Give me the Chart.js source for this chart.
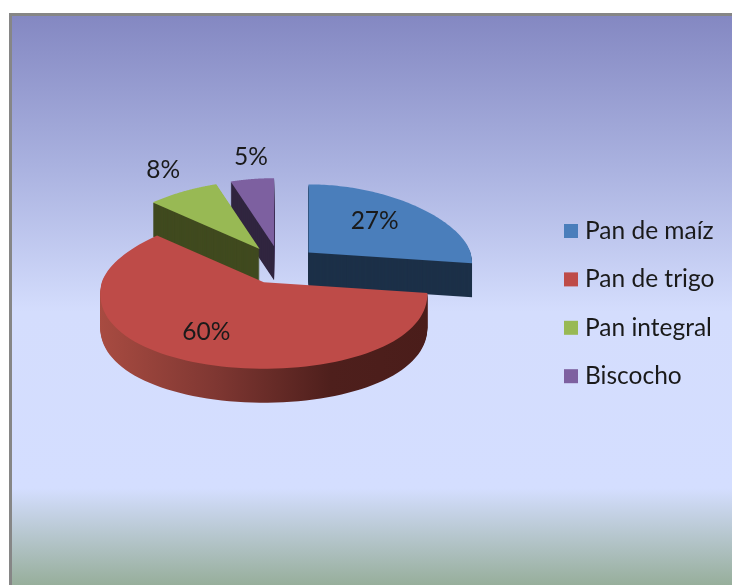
<!DOCTYPE html>
<html>
<head>
<meta charset="utf-8">
<script src="https://cdn.jsdelivr.net/npm/chart.js@4"></script>
<style>
html, body { margin: 0; padding: 0; background: #fff; overflow: hidden; }
#frame {
    position: absolute; left: 9px; top: 13px; width: 723px; height: 572px;
    box-sizing: border-box;
    border-left: 3px solid #868686; border-top: 3px solid #868686;
    background: linear-gradient(to bottom, #8488c2 0%, #a9b1df 26%, #d4ddfd 52%, #d4deff 83%, #97ae9b 100%);
}
#pie { position: absolute; left: 0; top: 0; }
</style>
</head>
<body>
<div id="frame"></div>
<canvas id="pie" width="732" height="585"></canvas>
<script>
const categories = ['Pan de maíz', 'Pan de trigo', 'Pan integral', 'Biscocho'];
const values = [27, 60, 8, 5];
const percentLabels = ['27%', '60%', '8%', '5%'];
const topColors = ['#4a7ebb', '#be4b48', '#98b954', '#7d60a0'];
const wallColors = ['#1c3048', '#4e1f1c', '#404a1f', '#30253f'];

const FONT = '24.5px Lato, "Open Sans", sans-serif';
const TEXT = '#1a1a1a';
const DEPTH = 34;
// how far out along the slice each percent label sits (1 = on the rim)
const labelDistX = [0.6, 0.74, 1.26, 1.06];
const labelDistY = [0.7, 0.64, 1.38, 1.33];

// fake 3D view: back half of the pie is flatter and narrower than the front
const project = (arc, apex, angle, distX, distY) => {
    const s = Math.cos(angle), c = -Math.sin(angle);
    const r = arc.outerRadius;
    return {
        x: apex.x + r * distX * s * (1 - 0.14 * c),
        y: apex.y - r * distY * c * (c > 0 ? 0.42 : 0.534)
    };
};

const apexOf = (arc) => {
    const mid = (arc.startAngle + arc.endAngle) / 2;
    const off = arc.options.offset;
    return { x: arc.x + off * Math.cos(mid), y: arc.y + off * Math.sin(mid) * 0.5 };
};

const slicePath = (ctx, arc, dy) => {
    const apex = apexOf(arc);
    ctx.beginPath();
    ctx.moveTo(apex.x, apex.y + dy);
    const steps = 90;
    for (let i = 0; i <= steps; i++) {
        const a = arc.startAngle + (arc.endAngle - arc.startAngle) * i / steps;
        const p = project(arc, apex, a, 1, 1);
        ctx.lineTo(p.x, p.y + dy);
    }
    ctx.closePath();
};

const pie3d = {
    id: 'pie3d',
    beforeDatasetDraw(chart) {
        const ctx = chart.ctx;
        const arcs = chart.getDatasetMeta(0).data;
        ctx.save();
        // back slices first, the big red one goes on top
        [3, 2, 0, 1].forEach(i => {
            const arc = arcs[i];
            let wall = wallColors[i];
            if (i === 1) {
                wall = ctx.createLinearGradient(arc.x - 180, 0, arc.x + 150, 0);
                wall.addColorStop(0, '#a84b41');
                wall.addColorStop(0.35, '#7f3732');
                wall.addColorStop(0.7, '#4e1f1c');
                wall.addColorStop(1, '#4a1d1a');
            }
            ctx.fillStyle = wall;
            for (let d = DEPTH; d > 0; d--) {
                slicePath(ctx, arc, d);
                ctx.fill();
            }
            ctx.fillStyle = topColors[i];
            slicePath(ctx, arc, 0);
            ctx.fill();
        });
        ctx.restore();
        return false;
    },
    afterDraw(chart) {
        const ctx = chart.ctx;
        const arcs = chart.getDatasetMeta(0).data;
        ctx.save();
        ctx.font = FONT;
        ctx.fillStyle = TEXT;
        ctx.textAlign = 'center';
        ctx.textBaseline = 'middle';
        arcs.forEach((arc, i) => {
            const mid = (arc.startAngle + arc.endAngle) / 2;
            const p = project(arc, apexOf(arc), mid, labelDistX[i], labelDistY[i]);
            ctx.fillText(percentLabels[i], p.x, p.y);
        });
        // legend
        ctx.textAlign = 'left';
        categories.forEach((name, i) => {
            const y = 231 + i * 48.4;
            ctx.fillStyle = topColors[i];
            ctx.fillRect(564, y - 7, 14, 14);
            ctx.fillStyle = TEXT;
            ctx.fillText(name, 585, y);
        });
        ctx.restore();
    }
};

new Chart(document.getElementById('pie'), {
    type: 'pie',
    data: {
        labels: categories,
        datasets: [{
            data: values,
            backgroundColor: topColors,
            borderWidth: 0,
            offset: 38,
            radius: 162
        }]
    },
    plugins: [pie3d],
    options: {
        responsive: false,
        animation: false,
        layout: { padding: { right: 172, bottom: 55 } },
        plugins: {
            legend: { display: false },
            tooltip: { enabled: false }
        }
    }
});
</script>
</body>
</html>
